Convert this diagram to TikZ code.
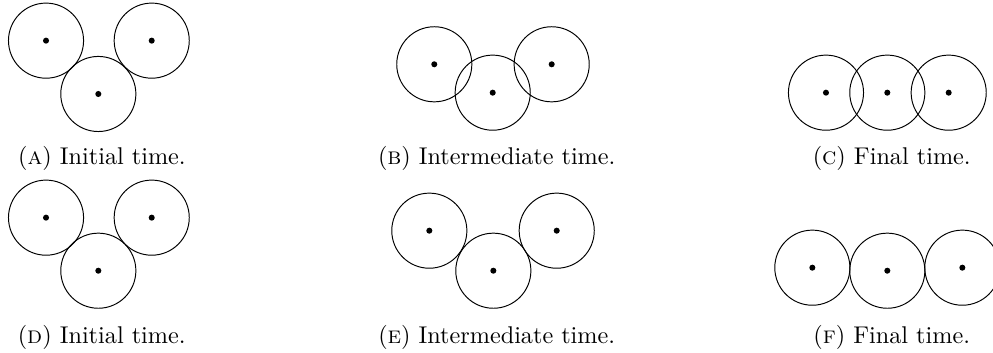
\documentclass[tikz,border=0pt]{standalone}
\usepackage{tikz}
\usetikzlibrary{positioning}

\begin{document}
\begin{tikzpicture}[x=1cm,y=1cm,
  ball/.style={draw, circle, minimum size=1.09cm, inner sep=0pt,
    path picture={\fill (path picture bounding box.center) circle (1.25pt);}},
  capt/.style={align=center, font=\normalsize}]
  \useasboundingbox (0,0) rectangle (14.412,5.123);
  \clip (0,0) rectangle (14.412,5.123);

  % top row
  \node[ball] (a1) at (0.668,4.533) {};
  \node[ball] (a2) at (1.427,3.759) {};
  \node[ball] (a3) at (2.202,4.533) {};
  \node[capt] (capa) at (1.480,2.830) {(\textsc{a}) Initial time.};

  \node[ball] (b1) at (6.303,4.190) {};
  \node[ball] (b2) at (7.151,3.778) {};
  \node[ball] (b3) at (8.007,4.190) {};
  \node[capt] (capb) at (7.209,2.830) {(\textsc{b}) Intermediate time.};

  \node[ball] (c1) at (11.988,3.778) {};
  \node[ball] (c2) at (12.878,3.778) {};
  \node[ball] (c3) at (13.769,3.778) {};
  \node[capt] (capc) at (12.942,2.830) {(\textsc{c}) Final time.};

  % bottom row
  \node[ball] (d1) at (0.668,1.964) {};
  \node[ball] (d2) at (1.427,1.194) {};
  \node[ball] (d3) at (2.202,1.964) {};
  \node[capt] (capd) at (1.476,0.232) {(\textsc{d}) Initial time.};

  \node[ball] (e1) at (6.231,1.775) {};
  \node[ball] (e2) at (7.160,1.194) {};
  \node[ball] (e3) at (8.080,1.775) {};
  \node[capt] (cape) at (7.209,0.232) {(\textsc{e}) Intermediate time.};

  \node[ball] (f1) at (11.790,1.238) {};
  \node[ball] (f2) at (12.878,1.194) {};
  \node[ball] (f3) at (13.967,1.238) {};
  \node[capt] (capf) at (12.942,0.232) {(\textsc{f}) Final time.};
\end{tikzpicture}
\end{document}
